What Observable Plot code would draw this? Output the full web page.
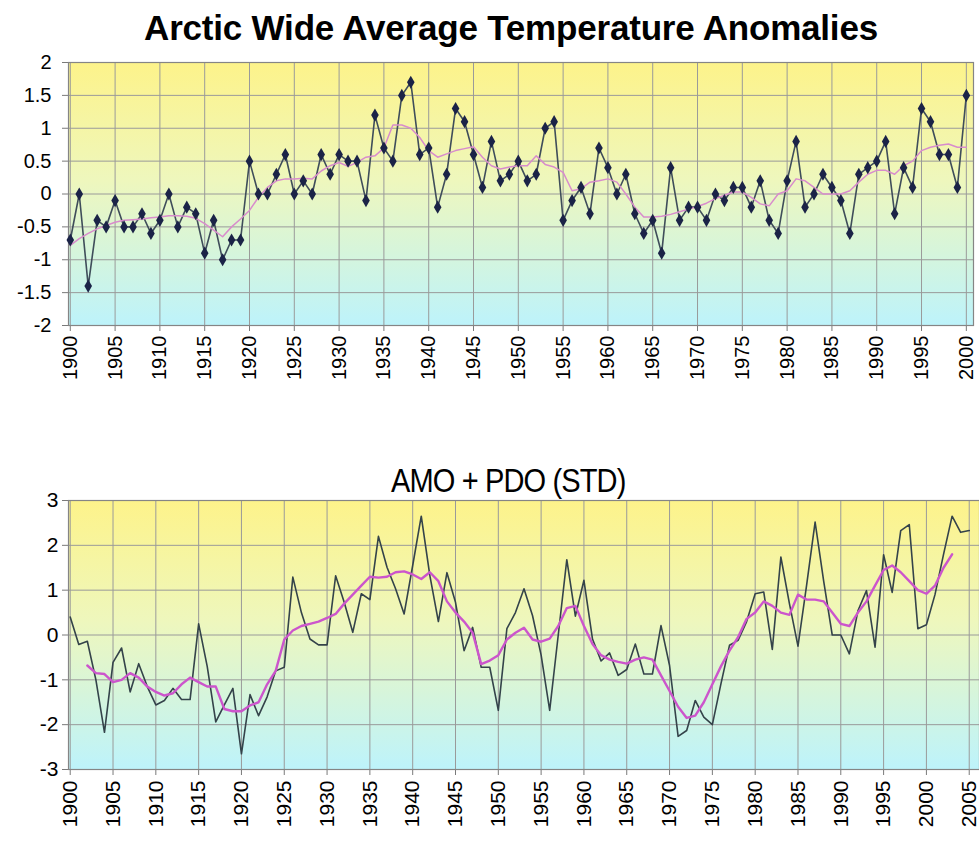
<!DOCTYPE html>
<html><head><meta charset="utf-8">
<script src="https://cdn.jsdelivr.net/npm/d3@7"></script>
<script src="https://cdn.jsdelivr.net/npm/@observablehq/plot@0.6"></script>
<style>
body{margin:0;background:#fff;font-family:"Liberation Sans",Arial,sans-serif;}
#wrap{position:relative;width:979px;height:844px;overflow:hidden;background:#fff;}
#top,#bot{position:absolute;left:0;}
#top{top:0;} #bot{top:440px;}
.t1{position:absolute;left:0;width:1022px;top:8px;text-align:center;font-weight:bold;font-size:35px;line-height:40px;letter-spacing:-0.2px;}
.t2{position:absolute;left:0;width:1016px;top:462px;text-align:center;font-size:33px;line-height:38px;}
.t2 span{display:inline-block;transform:scaleX(0.88);letter-spacing:-1px;}
g[aria-label^="x-axis"] path, g[aria-label^="y-axis"] path{stroke:#7a7a7a;}
</style></head>
<body>
<svg width="0" height="0" style="position:absolute">
  <defs>
    <linearGradient id="bg" x1="0" y1="0" x2="0" y2="1">
      <stop offset="0%" stop-color="#fdf38a"/>
      <stop offset="45%" stop-color="#eef7bd"/>
      <stop offset="100%" stop-color="#bdf3fb"/>
    </linearGradient>
  </defs>
</svg>
<div id="wrap">
  <div id="top"></div>
  <div id="bot"></div>
  <div class="t1">Arctic Wide Average Temperature Anomalies</div>
  <div class="t2"><span>AMO + PDO (STD)</span></div>
</div>
<script>
// ---------- Top chart: Arctic wide average temperature anomalies ----------
const arcticYears = d3.range(1900, 2001);
const arcticAnomaly = [
 -0.7, 0, -1.4, -0.4, -0.5, -0.1, -0.5, -0.5, -0.3, -0.6,
 -0.4, 0, -0.5, -0.2, -0.3, -0.9, -0.4, -1.0, -0.7, -0.7,
 0.5, 0, 0, 0.3, 0.6, 0, 0.2, 0, 0.6, 0.3,
 0.6, 0.5, 0.5, -0.1, 1.2, 0.7, 0.5, 1.5, 1.7, 0.6,
 0.7, -0.2, 0.3, 1.3, 1.1, 0.6, 0.1, 0.8, 0.2, 0.3,
 0.5, 0.2, 0.3, 1.0, 1.1, -0.4, -0.1, 0.1, -0.3, 0.7,
 0.4, 0, 0.3, -0.3, -0.6, -0.4, -0.9, 0.4, -0.4, -0.2,
 -0.2, -0.4, 0, -0.1, 0.1, 0.1, -0.2, 0.2, -0.4, -0.6,
 0.2, 0.8, -0.2, 0, 0.3, 0.1, -0.1, -0.6, 0.3, 0.4,
 0.5, 0.8, -0.3, 0.4, 0.1, 1.3, 1.1, 0.6, 0.6, 0.1,
 1.5
];
const arcticSmooth = [
 -0.78, -0.68, -0.6, -0.53, -0.48, -0.43, -0.4, -0.39, -0.38, -0.36,
 -0.35, -0.33, -0.33, -0.34, -0.37, -0.45, -0.55, -0.65, -0.5, -0.38,
 -0.25, -0.05, 0.1, 0.2, 0.23, 0.23, 0.24, 0.23, 0.35, 0.43,
 0.48, 0.42, 0.48, 0.56, 0.58, 0.7, 1.05, 1.05, 1.0, 0.86,
 0.66, 0.56, 0.61, 0.66, 0.69, 0.72, 0.56, 0.43, 0.38, 0.41,
 0.43, 0.43, 0.58, 0.45, 0.41, 0.33, 0.05, 0.08, 0.18, 0.2,
 0.23, 0.18, 0.0, -0.2, -0.35, -0.35, -0.34, -0.31, -0.27, -0.23,
 -0.19, -0.14, -0.07, -0.02, 0.03, 0.03, -0.05, -0.15, -0.18, 0.0,
 0.05, 0.23, 0.2, 0.1, 0.0, 0.0, 0.0, 0.05, 0.18, 0.3,
 0.36, 0.36, 0.3, 0.43, 0.5, 0.66, 0.71, 0.74, 0.76, 0.71,
 0.71
];
const arcticXTicks = [1900,1905,1910,1915,1920,1925,1930,1935,1940,1945,1950,1955,1960,1965,1970,1975,1980,1985,1990,1995,2000];
const arcticYTicks = [-2,-1.5,-1,-0.5,0,0.5,1,1.5,2];

// ---------- Bottom chart: AMO + PDO (STD) ----------
const amoYears = d3.range(1900, 2006);
const amoPdo = [
 0.40, -0.21, -0.14, -1.0, -2.17, -0.61, -0.29, -1.27, -0.64, -1.15,
 -1.56, -1.46, -1.19, -1.44, -1.44, 0.25, -0.7, -1.94, -1.56, -1.19,
 -2.65, -1.33, -1.8, -1.38, -0.8, -0.72, 1.29, 0.5, -0.09, -0.22,
 -0.22, 1.32, 0.73, 0.06, 0.92, 0.79, 2.2, 1.51, 1.03, 0.47,
 1.55, 2.65, 1.33, 0.3, 1.39, 0.73, -0.35, 0.17, -0.72, -0.72,
 -1.68, 0.14, 0.5, 1.03, 0.43, -0.45, -1.68, 0.0, 1.68, 0.42,
 1.22, -0.09, -0.58, -0.4, -0.9, -0.77, -0.2, -0.87, -0.87, 0.21,
 -0.68, -2.26, -2.13, -1.46, -1.83, -2.0, -1.09, -0.23, -0.12, 0.3,
 0.92, 0.96, -0.32, 1.74, 0.7, -0.25, 1.1, 2.52, 1.2, 0.0,
 0.0, -0.42, 0.54, 0.99, -0.27, 1.79, 0.95, 2.33, 2.46, 0.14,
 0.23, 0.9, 1.8, 2.65, 2.29, 2.33
];
const amoSmoothYears = d3.range(1902, 2004);
const amoSmooth = [
 -0.68, -0.85, -0.87, -1.05, -1.0, -0.85, -0.95, -1.15,
 -1.27, -1.35, -1.3, -1.1, -0.95, -1.05, -1.15, -1.15, -1.65, -1.7,
 -1.7, -1.57, -1.5, -1.1, -0.8, -0.1, 0.1, 0.2, 0.25, 0.3,
 0.38, 0.47, 0.7, 0.9, 1.1, 1.3, 1.28, 1.3, 1.4, 1.42,
 1.35, 1.25, 1.4, 1.2, 0.75, 0.5, 0.3, 0.05, -0.65, -0.57,
 -0.45, -0.1, 0.05, 0.16, -0.1, -0.15, -0.08, 0.2, 0.6, 0.65,
 0.2, -0.2, -0.45, -0.55, -0.6, -0.64, -0.55, -0.5, -0.55, -0.9,
 -1.25, -1.6, -1.85, -1.8, -1.5, -1.1, -0.7, -0.35, -0.05, 0.36,
 0.5, 0.75, 0.65, 0.5, 0.45, 0.9, 0.79, 0.79, 0.75, 0.5,
 0.25, 0.2, 0.5, 0.75, 1.1, 1.45, 1.55, 1.4, 1.2, 1.0,
 0.92, 1.1, 1.5, 1.8
];
const amoXTicks = [1900,1905,1910,1915,1920,1925,1930,1935,1940,1945,1950,1955,1960,1965,1970,1975,1980,1985,1990,1995,2000,2005];
const amoYTicks = [-3,-2,-1,0,1,2,3];

const arctic = arcticYears.map((y, i) => ({year: y, v: arcticAnomaly[i], s: arcticSmooth[i]}));
const amo = amoYears.map((y, i) => ({year: y, v: amoPdo[i]}));
const amoS = amoSmoothYears.map((y, i) => ({year: y, s: amoSmooth[i]}));

const fmt = d => String(d);
const FONT = '"Liberation Sans", Arial, sans-serif';

const topPlot = Plot.plot({
  width: 979, height: 400,
  marginLeft: 68, marginRight: 6, marginTop: 62, marginBottom: 75,
  style: {fontFamily: FONT, fontSize: "20px", background: "transparent", color: "#000"},
  x: {domain: [1899.8, 2000.8], ticks: arcticXTicks, tickFormat: fmt, tickRotate: -90, tickSize: 6, tickPadding: 4, label: null},
  y: {domain: [-2, 2], ticks: arcticYTicks, tickFormat: fmt, tickSize: 6, tickPadding: 11, label: null},
  marks: [
    Plot.frame({fill: "url(#bg)", stroke: "none"}),
    Plot.ruleX(arcticXTicks, {stroke: "#9a9a9a", strokeWidth: 1}),
    Plot.ruleY(arcticYTicks, {stroke: "#9a9a9a", strokeWidth: 1}),
    Plot.frame({stroke: "#858585", strokeWidth: 1.2}),
    Plot.line(arctic, {x: "year", y: "v", stroke: "#3f4d5a", strokeWidth: 1.6}),
    Plot.line(arctic, {x: "year", y: "s", stroke: "#d88ccc", strokeWidth: 1.5}),
    Plot.dot(arctic, {x: "year", y: "v", symbol: "diamond", r: 4, fill: "#1b2347", stroke: "none"})
  ]
});
document.getElementById("top").appendChild(topPlot);

const botPlot = Plot.plot({
  width: 979, height: 404,
  marginLeft: 68, marginRight: 0, marginTop: 60, marginBottom: 75,
  style: {fontFamily: FONT, fontSize: "21px", background: "transparent", color: "#000"},
  x: {domain: [1899.8, 2006.2], ticks: amoXTicks, tickFormat: fmt, tickRotate: -90, tickSize: 6, tickPadding: 5, label: null},
  y: {domain: [-3, 3], ticks: amoYTicks, tickFormat: fmt, tickSize: 6, tickPadding: 4, label: null},
  marks: [
    Plot.frame({fill: "url(#bg)", stroke: "none"}),
    Plot.ruleX(amoXTicks, {stroke: "#9a9a9a", strokeWidth: 1}),
    Plot.ruleY(amoYTicks, {stroke: "#9a9a9a", strokeWidth: 1}),
    Plot.frame({stroke: "#858585", strokeWidth: 1.2}),
    Plot.line(amo, {x: "year", y: "v", stroke: "#34434a", strokeWidth: 1.6}),
    Plot.line(amoS, {x: "year", y: "s", stroke: "#cc55cc", strokeWidth: 2.4})
  ]
});
document.getElementById("bot").appendChild(botPlot);
</script>
</body></html>
